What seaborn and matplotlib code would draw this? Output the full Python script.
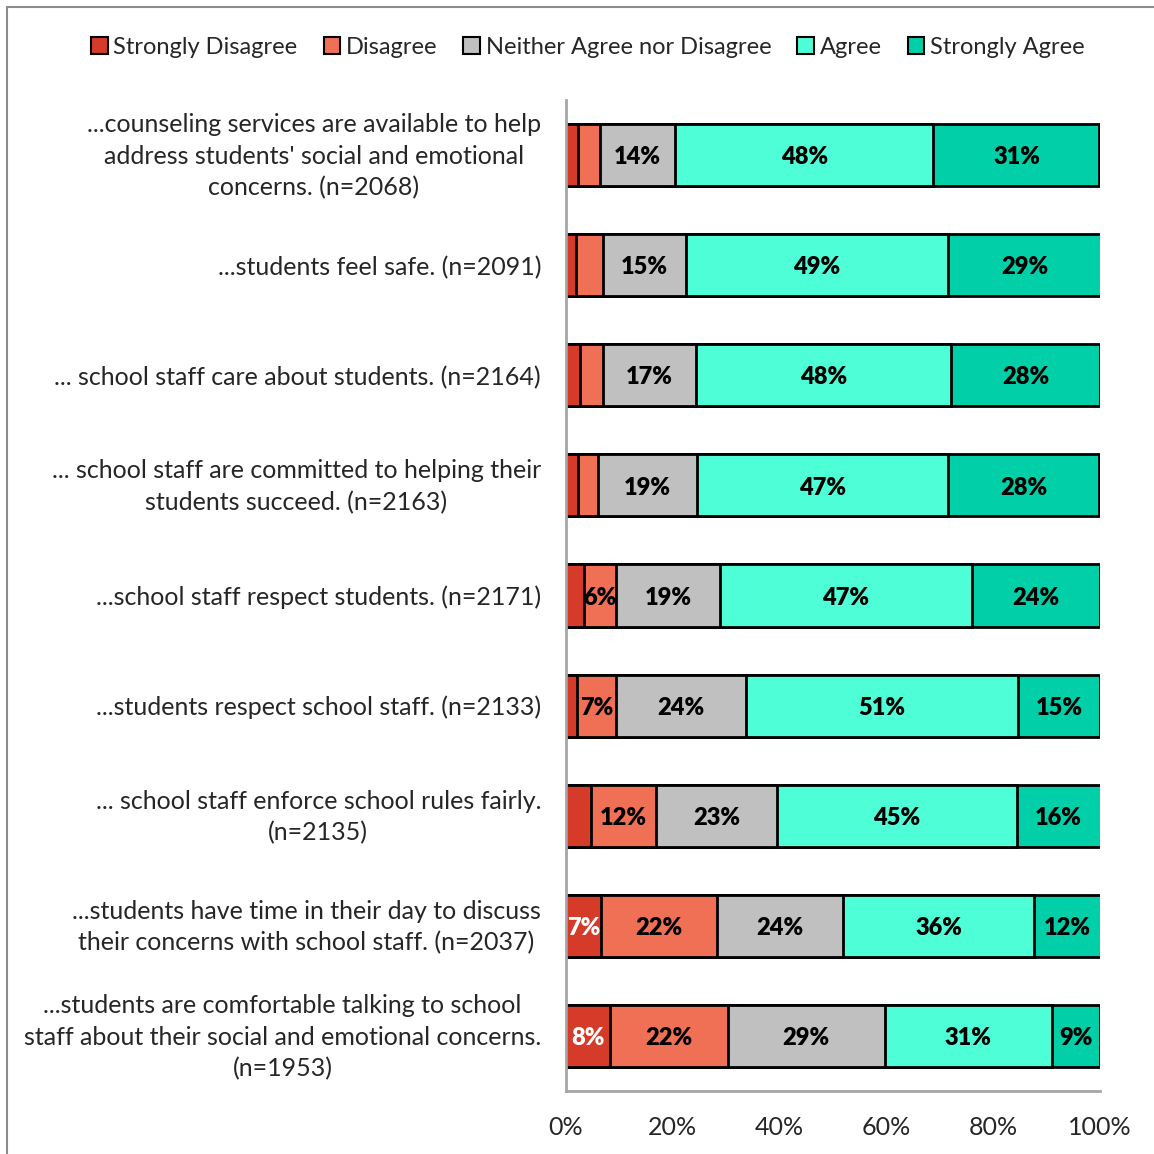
import matplotlib
matplotlib.use("Agg")
import matplotlib.pyplot as plt
import matplotlib.patches as mpatches
import matplotlib.transforms as mtransforms
import seaborn as sns
import pandas as pd
import numpy as np

# data (percent of respondents)
questions = [
    "...counseling services are available to help\naddress students' social and emotional\nconcerns. (n=2068)",
    "...students feel safe. (n=2091)",
    "... school staff care about students. (n=2164)",
    "... school staff are committed to helping their\nstudents succeed. (n=2163)",
    "...school staff respect students. (n=2171)",
    "...students respect school staff. (n=2133)",
    "... school staff enforce school rules fairly.\n(n=2135)",
    "...students have time in their day to discuss\ntheir concerns with school staff. (n=2037)",
    "...students are comfortable talking to school\nstaff about their social and emotional concerns.\n(n=1953)",
]
strongly_disagree = [2.2, 1.9, 2.6, 2.2, 3.4, 2.1, 4.7, 6.6, 8.2]
disagree = [4.1, 5.1, 4.3, 3.7, 6.0, 7.3, 12.2, 21.7, 22.1]
neither = [14.2, 15.4, 17.4, 18.7, 19.4, 24.3, 22.6, 23.6, 29.4]
agree = [48.3, 49.1, 47.8, 47.0, 47.2, 50.9, 44.9, 35.8, 31.3]
strongly_agree = [31.1, 28.7, 27.9, 28.3, 24.0, 15.4, 15.7, 12.4, 9.0]

categories = ["Strongly Disagree", "Disagree", "Neither Agree nor Disagree", "Agree", "Strongly Agree"]
colors = ["#d63a29", "#f07056", "#c0c0c0", "#4dfed6", "#00cfa8"]
label_colors = ["white", "black", "black", "black", "black"]

df = pd.DataFrame({"question": questions,
                   categories[0]: strongly_disagree,
                   categories[1]: disagree,
                   categories[2]: neither,
                   categories[3]: agree,
                   categories[4]: strongly_agree})
cum = df[categories].cumsum(axis=1)

sns.set_style("white")
plt.rcParams["font.family"] = ["Lato", "DejaVu Sans"]

fig = plt.figure(figsize=(11.54, 11.54), dpi=100)
ax = fig.add_axes([566 / 1154, 1 - 1091 / 1154, 534 / 1154, 991 / 1154])

# stacked bars: draw cumulative totals from the longest down
for i in range(len(categories) - 1, -1, -1):
    sns.barplot(x=cum[categories[i]], y=df["question"], orient="h", color=colors[i],
                edgecolor="black", linewidth=2, width=0.565, ax=ax, saturation=1)

for i, cat in enumerate(categories):
    for j in range(len(df)):
        v = df[cat].iloc[j]
        if round(v) >= 6:
            ax.text(cum[cat].iloc[j] - v / 2, j + 0.02, f"{round(v)}%", ha="center", va="center",
                    fontsize=17, fontweight="heavy", color=label_colors[i])

ax.set_xlim(0, 100)
ax.set_ylim(8.5, -0.5)
ax.set_xticks(np.arange(0, 101, 20))
ax.set_xticklabels([f"{t}%" for t in range(0, 101, 20)])
ax.set_xlabel("")
ax.set_ylabel("")
ax.tick_params(axis="y", length=0, pad=18, labelsize=18)
ax.tick_params(axis="x", length=0, pad=18, labelsize=18)
for lab in ax.get_yticklabels():
    lab.set_multialignment("center")
    lab.set_linespacing(1.45)
    if "\n" in lab.get_text():
        lab.set_transform(lab.get_transform() + mtransforms.ScaledTranslation(0, 5 / 100, fig.dpi_scale_trans))
for s in ["top", "right"]:
    ax.spines[s].set_visible(False)
for s in ["left", "bottom"]:
    ax.spines[s].set_color("#a6a6a6")
    ax.spines[s].set_linewidth(2)

handles = [mpatches.Patch(facecolor=c, edgecolor="black", linewidth=1.5, label=l)
           for c, l in zip(colors, categories)]
fig.legend(handles=handles, loc="center", bbox_to_anchor=(588 / 1154, 1 - 47 / 1154), ncol=5,
           frameon=False, fontsize=17, handlelength=0.7, handleheight=0.7,
           handletextpad=0.25, columnspacing=1.1)

# outer frame of the chart area
fig.add_artist(mpatches.Rectangle((7 / 1154, -0.1), 1.2, 1.1 - 7 / 1154, transform=fig.transFigure,
                                  fill=False, edgecolor="#8c8c8c", linewidth=1.5))

fig.savefig("out.png", dpi=100)
